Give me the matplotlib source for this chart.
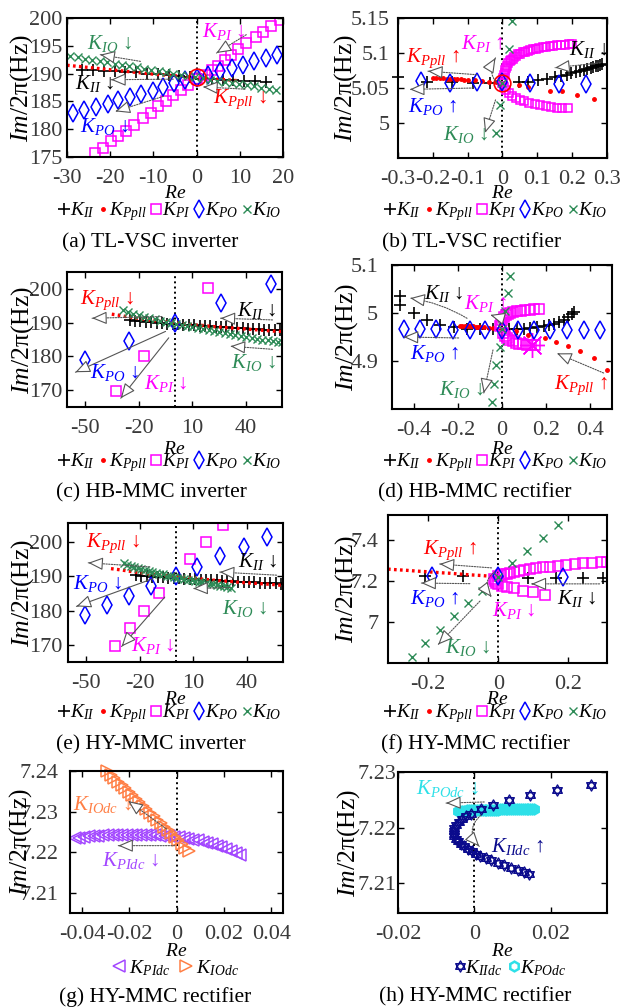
import numpy as np
import matplotlib
matplotlib.use("Agg")
import matplotlib.pyplot as plt
from matplotlib.lines import Line2D
from matplotlib.path import Path
from matplotlib.ticker import FuncFormatter
from matplotlib import transforms as mtransforms

plt.rcParams["font.family"] = ["Liberation Serif", "DejaVu Serif"]
plt.rcParams["mathtext.fontset"] = "custom"
plt.rcParams["mathtext.rm"] = "Liberation Serif"
plt.rcParams["mathtext.it"] = "Liberation Serif:italic"
plt.rcParams["axes.unicode_minus"] = False

W, H = 621, 1007
FS = 15          # annotations
FS_LEG = 14
FS_TICK = 16
FS_YLAB = 18.5
FS_XLAB = 14

C_II = "black"
C_PPLL = "#FF0000"
C_PI = "#FF00FF"
C_PO = "#0000FF"
C_IO = "#2E8B57"
C_PIDC = "#A347FF"
C_IODC = "#FF7F45"
C_IIDC = "#0A0A8C"
C_PODC = "#2EE0E8"
C_ARROW = "#555555"

# ---------------------------------------------------------------- data
# (a) TL-VSC inverter
a_II_x = [-26.5, -24, -21.5, -19, -16.5, -14, -11.5, -9, -6.5, -4, -1.5, 1, 3.5, 6, 8.5, 11, 13.5, 16]
a_II_y = [190.7, 190.6, 190.5, 190.4, 190.3, 190.2, 190.0, 189.9, 189.7, 189.5, 189.3, 189.1, 189.0, 188.9, 188.8, 188.7, 188.6, 188.5]
a_Ppll_x = [-30, -25, -20, -15, -10, -5, 0, 5, 10]
a_Ppll_y = [191.5, 191.1, 190.7, 190.3, 189.9, 189.6, 189.3, 189.0, 188.7]
a_PI_x = [-23.5, -21.7, -19.8, -18.1, -16.3, -14.4, -12.5, -10.5, -9.0, -7.1, -5.4, -3.6, -1.9, 0.0,
          1.9, 3.5, 5.0, 6.5, 7.9, 9.6, 11.5, 13.7, 15.4, 17.3, 19.2]
a_PI_y = [175.7, 176.7, 177.8, 178.8, 179.7, 180.8, 182.0, 183.0, 184.1, 185.1, 186.1, 187.1, 188.0, 189.0,
          189.8, 190.6, 191.4, 192.5, 193.4, 194.4, 195.5, 196.5, 197.5, 198.5, 199.7]
a_PO_x = [-28.6, -26.0, -23.2, -20.6, -18.1, -15.4, -12.8, -10.2, -7.7, -5.2, -2.7, 0.0, 2.7, 5.4, 8.1, 10.8, 13.3, 16.0, 18.6]
a_PO_y = [182.9, 183.5, 184.0, 184.5, 185.2, 185.8, 186.3, 186.9, 187.6, 188.3, 188.9, 189.2, 189.8, 190.4, 191.0, 191.6, 192.2, 192.8, 193.4]
a_IO_x = [-29.2, -27.5, -25.8, -24.1, -22.4, -20.7, -19, -17.3, -15.6, -13.9, -12.2, -10.5, -8.8, -7.1, -5.4,
          -3.7, -2, -0.3, 1.4, 3.1, 4.8, 6.5, 8.2, 9.9, 11.6, 13.3, 15, 16.7, 18.4]
a_IO_y = [193.1, 192.9, 192.7, 192.4, 192.2, 192.0, 191.8, 191.6, 191.3, 191.1, 190.9, 190.7, 190.5, 190.3, 190.0,
          189.8, 189.6, 189.4, 189.2, 188.9, 188.7, 188.5, 188.3, 188.1, 187.9, 187.7, 187.5, 187.3, 187.1]
a_start = (0.2, 189.3)

# (b) TL-VSC rectifier
b_II_x = [-0.3, -0.217, -0.145, -0.085, -0.036, 0.0, 0.046, 0.074, 0.103, 0.127, 0.151, 0.168, 0.184, 0.198,
          0.211, 0.223, 0.234, 0.244, 0.253, 0.261, 0.268, 0.275, 0.281, 0.287]
b_II_y = [5.066, 5.059, 5.058, 5.057, 5.057, 5.057, 5.058, 5.059, 5.061, 5.063, 5.065, 5.067, 5.069, 5.071,
          5.073, 5.074, 5.076, 5.077, 5.079, 5.080, 5.081, 5.082, 5.083, 5.084]
b_Ppll_x = [-0.2, -0.19, -0.18, -0.17, -0.16, -0.15, -0.14, -0.13, -0.12, -0.11, -0.1, -0.08, -0.06, -0.04,
            -0.02, 0.0, 0.046, 0.074, 0.137, 0.17, 0.214, 0.262]
b_Ppll_y = [5.064, 5.064, 5.064, 5.064, 5.063, 5.063, 5.063, 5.063, 5.063, 5.062, 5.062, 5.061, 5.060, 5.059,
            5.058, 5.057, 5.055, 5.052, 5.046, 5.045, 5.040, 5.034]
b_PI_x = [0.0, 0.001, 0.002, 0.004, 0.006, 0.008, 0.011, 0.014, 0.017, 0.021, 0.025, 0.029, 0.034, 0.039,
          0.045, 0.051, 0.058, 0.065, 0.072, 0.080, 0.088, 0.097, 0.106, 0.115, 0.125, 0.135, 0.145, 0.156,
          0.167, 0.178, 0.19, 0.2,
          0.004, 0.01, 0.018, 0.027, 0.038, 0.05, 0.063, 0.077, 0.092, 0.108, 0.124, 0.14, 0.156, 0.172, 0.188]
b_PI_y = [5.057, 5.061, 5.064, 5.068, 5.072, 5.075, 5.078, 5.082, 5.085, 5.088, 5.090, 5.092, 5.094, 5.096,
          5.098, 5.099, 5.101, 5.102, 5.103, 5.104, 5.105, 5.106, 5.107, 5.108, 5.109, 5.110, 5.110, 5.111,
          5.112, 5.112, 5.113, 5.113,
          5.052, 5.047, 5.043, 5.039, 5.036, 5.033, 5.031, 5.029, 5.027, 5.025, 5.024, 5.023, 5.022, 5.021, 5.021]
b_PO_x = [-0.235, -0.151, -0.074, 0.0, 0.079, 0.161, 0.24]
b_PO_y = [5.060, 5.057, 5.058, 5.058, 5.057, 5.056, 5.056]
b_IO_x = [0.026, 0.02, 0.0, -0.006, -0.02]
b_IO_y = [5.146, 5.106, 5.057, 5.026, 4.986]
b_start = (0.0, 5.057)

# (c) HB-MMC inverter
c_II_x = [-25, -22, -19, -16, -13, -10, -7, -4, -1, 2, 5, 8, 11, 14, 17, 20, 23, 26, 29, 32, 35, 38, 41, 44, 47, 50, 53, 56, 59]
c_II_y = [190.8, 190.6, 190.4, 190.2, 190.1, 189.9, 189.8, 189.7, 189.6, 189.5, 189.4, 189.3, 189.2, 189.1, 189.0,
          188.9, 188.8, 188.7, 188.6, 188.5, 188.4, 188.3, 188.2, 188.1, 188.0, 187.9, 187.8, 187.8, 187.7]
c_Ppll_x = [-35, -30, -25, -20, -15, -10, -5, 0, 5, 10, 15, 20, 25, 30, 35, 40, 45, 50, 55, 60]
c_Ppll_y = [192.5, 192.1, 191.6, 191.2, 190.8, 190.5, 190.2, 190.0, 189.7, 189.4, 189.2, 188.9, 188.7, 188.5,
            188.3, 188.1, 187.9, 187.7, 187.5, 187.4]
c_PI_x = [18.6, -17.1, -32.9]
c_PI_y = [200.3, 180.0, 169.8]
c_PO_x = [54.1, 26.2, 0.0, -25.5, -50.0]
c_PO_y = [201.5, 195.9, 190.0, 184.5, 179.0]
c_IO_x = [-29, -26, -23, -20, -17, -14, -11, -8, -5, -2, 1, 4, 7, 10, 13, 16, 19, 22, 25, 28, 31, 34, 37, 40,
          43, 46, 49, 52, 55, 58, 60]
c_IO_y = [193.7, 193.2, 192.7, 192.2, 191.8, 191.4, 191.0, 190.6, 190.3, 190.0, 189.7, 189.4, 189.1, 188.8, 188.5,
          188.2, 187.9, 187.6, 187.3, 187.0, 186.7, 186.4, 186.1, 185.8, 185.5, 185.2, 185.0, 184.8, 184.6, 184.4, 184.2]

# (d) HB-MMC rectifier
d_II_x = [-0.465, -0.465, -0.402, -0.341, -0.28, -0.22, -0.159, -0.098, -0.04, 0.0, 0.03, 0.068, 0.1, 0.129,
          0.16, 0.189, 0.212, 0.235, 0.258, 0.28, 0.3, 0.316, 0.326]
d_II_y = [5.036, 5.017, 5.0, 4.986, 4.975, 4.97, 4.967, 4.966, 4.966, 4.966, 4.966, 4.967, 4.967, 4.968,
          4.970, 4.972, 4.974, 4.977, 4.981, 4.986, 4.992, 4.997, 5.002]
d_Ppll_x = [-0.19, -0.18, -0.17, -0.16, -0.15, -0.14, -0.13, -0.12, -0.11, -0.1, -0.08, -0.06, -0.04, -0.02,
            0.0, 0.065, 0.12, 0.197, 0.247, 0.302, 0.356, 0.42, 0.479]
d_Ppll_y = [4.973, 4.973, 4.973, 4.973, 4.972, 4.972, 4.972, 4.971, 4.971, 4.970, 4.970, 4.969, 4.968, 4.967,
            4.966, 4.963, 4.954, 4.948, 4.940, 4.932, 4.921, 4.907, 4.882]
d_PI_x = [-0.008, -0.004, 0.0, 0.008, 0.016, 0.026, 0.038, 0.052, 0.068, 0.086, 0.105, 0.125, 0.146, 0.167,
          0.004, 0.012, 0.022, 0.034, 0.048, 0.063, 0.079, 0.096, 0.114, 0.133, 0.152]
d_PI_y = [4.973, 4.980, 4.986, 4.991, 4.995, 4.998, 5.000, 5.002, 5.004, 5.005, 5.006, 5.007, 5.008, 5.008,
          4.958, 4.953, 4.948, 4.944, 4.941, 4.938, 4.936, 4.935, 4.934, 4.934, 4.934]
d_PI_end = (0.136, 4.934)
d_PO_x = [-0.444, -0.371, -0.298, -0.223, -0.147, -0.076, 0.0, 0.073, 0.147, 0.22, 0.295, 0.371, 0.447]
d_PO_y = [4.967, 4.966, 4.966, 4.965, 4.965, 4.965, 4.965, 4.964, 4.964, 4.964, 4.964, 4.964, 4.964]
d_IO_x = [0.035, 0.026, 0.015, 0.0, -0.011, -0.027, -0.038, -0.045]
d_IO_y = [5.077, 5.041, 5.004, 4.966, 4.930, 4.892, 4.853, 4.814]

# (e) HY-MMC inverter
e_II_x = [-22, -19, -16, -13, -10, -7, -4, -1, 2, 5, 8, 11, 14, 17, 20, 23, 26, 29, 32, 35, 38, 41, 44, 47, 50, 53, 56, 59]
e_II_y = [190.4, 190.2, 190.1, 189.9, 189.8, 189.7, 189.6, 189.5, 189.4, 189.3, 189.2, 189.1, 189.0, 188.9,
          188.8, 188.8, 188.7, 188.6, 188.5, 188.4, 188.4, 188.3, 188.2, 188.1, 188.0, 188.0, 187.9, 187.8]
e_Ppll_x = [-36, -30, -24, -18, -12, -6, 0, 6, 12, 18, 24, 30, 36, 42, 48, 54, 60]
e_Ppll_y = [192.2, 191.8, 191.3, 190.9, 190.5, 190.2, 189.9, 189.6, 189.3, 189.0, 188.7, 188.5, 188.2, 188.0,
            187.8, 187.6, 187.3]
e_PI_x = [26.6, 17.3, 8.0, -9.3, -17.7, -25.5, -33.5]
e_PI_y = [204.9, 200.0, 195.1, 185.1, 179.8, 174.8, 169.6]
e_PO_x = [50.8, 38.3, 24.7, 12.1, 0.0, -13.4, -25.9, -38.1, -50.4]
e_PO_y = [201.5, 198.5, 195.8, 192.7, 190.0, 187.1, 184.2, 181.5, 178.8]
e_IO_x = [-29, -27, -25, -23, -21, -19, -17, -15, -13, -11, -9, -7, -5, -3, -1, 1, 3, 5, 7, 9, 11, 13, 15, 17,
          19, 21, 23, 25, 27, 29, 31]
e_IO_y = [193.7, 193.4, 193.1, 192.8, 192.5, 192.2, 191.9, 191.6, 191.3, 191.0, 190.7, 190.5, 190.2, 190.0, 189.8,
          189.6, 189.4, 189.2, 189.0, 188.8, 188.6, 188.4, 188.2, 188.0, 187.8, 187.6, 187.4, 187.2, 187.0, 186.9, 186.7]

# (f) HY-MMC rectifier
f_II_x = [-0.21, -0.1, 0.0, 0.084, 0.164, 0.241, 0.3]
f_II_y = [7.224, 7.222, 7.220, 7.217, 7.217, 7.217, 7.217]
f_Ppll_x = [-0.314, -0.29, -0.26, -0.23, -0.2, -0.17, -0.14, -0.11, -0.08, -0.05, -0.02, 0.0]
f_Ppll_y = [7.258, 7.255, 7.252, 7.248, 7.245, 7.241, 7.238, 7.234, 7.230, 7.227, 7.223, 7.220]
f_PI_x = [0.0, 0.008, 0.016, 0.024, 0.034, 0.045, 0.058, 0.073, 0.09, 0.108, 0.128, 0.149, 0.171, 0.194,
          0.218, 0.243, 0.268, 0.293, 0.31,
          -0.012, -0.01, -0.006, 0.0, 0.01, 0.024, 0.045, 0.071, 0.1, 0.133]
f_PI_y = [7.222, 7.228, 7.232, 7.236, 7.241, 7.245, 7.249, 7.254, 7.258, 7.262, 7.266, 7.270, 7.274, 7.278,
          7.282, 7.286, 7.289, 7.292, 7.295,
          7.210, 7.200, 7.190, 7.183, 7.178, 7.172, 7.164, 7.153, 7.145, 7.133]
f_PO_x = [-0.188, 0.0, 0.184]
f_PO_y = [7.223, 7.222, 7.220]
f_IO_x = [-0.246, -0.21, -0.167, -0.127, -0.086, -0.046, 0.0, 0.04, 0.083, 0.129, 0.171]
f_IO_y = [6.830, 6.897, 6.962, 7.027, 7.093, 7.153, 7.220, 7.288, 7.347, 7.410, 7.472]

# (g) HY-MMC rectifier, dc-side gains
g_PIdc_x = [-0.043, -0.041, -0.039, -0.037, -0.035, -0.033, -0.031, -0.029, -0.027, -0.025, -0.023, -0.021,
            -0.019, -0.017, -0.015, -0.013, -0.011, -0.009, -0.007, -0.005, -0.003, -0.001, 0.001, 0.003,
            0.005, 0.007, 0.009, 0.011, 0.013, 0.015, 0.017, 0.019, 0.021, 0.023, 0.025, 0.027]
g_PIdc_y = [7.2234, 7.2236, 7.2238, 7.2239, 7.2240, 7.2241, 7.2242, 7.2242, 7.2243, 7.2243, 7.2243, 7.2243,
            7.2243, 7.2243, 7.2243, 7.2243, 7.2242, 7.2242, 7.2241, 7.2240, 7.2239, 7.2238, 7.2237, 7.2235,
            7.2233, 7.2231, 7.2229, 7.2226, 7.2223, 7.2220, 7.2216, 7.2212, 7.2207, 7.2202, 7.2198, 7.2193]
g_IOdc_x = [-0.0292, -0.0277, -0.0262, -0.0247, -0.0232, -0.0217, -0.0202, -0.0187, -0.0172, -0.0157, -0.0142,
            -0.0127, -0.0112, -0.0097, -0.0082, -0.0067, -0.0052, -0.0037, -0.0022, -0.0007, 0.0008, 0.0023,
            0.0038, 0.0053]
g_IOdc_y = [7.2400, 7.2391, 7.2383, 7.2374, 7.2366, 7.2357, 7.2349, 7.2340, 7.2331, 7.2323, 7.2314, 7.2306,
            7.2297, 7.2289, 7.2280, 7.2271, 7.2263, 7.2254, 7.2246, 7.2237, 7.2229, 7.2220, 7.2211, 7.2203]

# (h) HY-MMC rectifier, dc-side gains
h_IIdc_x = [0.0306, 0.0217, 0.0146, 0.0091, 0.0048, 0.0017, -0.0009, -0.0022, -0.0033, -0.0041, -0.0048,
            -0.0052, -0.0054, -0.0054, -0.0052, -0.0048, -0.0042, -0.0035, -0.0026, -0.0017, -0.0006, 0.0004,
            0.0016, 0.003, 0.0045, 0.0061, 0.0078, 0.0096, 0.0114, 0.0131, 0.0143]
h_IIdc_y = [7.2276, 7.2268, 7.2259, 7.2250, 7.2241, 7.2233, 7.2224, 7.2220, 7.2215, 7.2210, 7.2204,
            7.2199, 7.2194, 7.2189, 7.2184, 7.2179, 7.2175, 7.2170, 7.2166, 7.2162, 7.2157, 7.2153,
            7.2149, 7.2145, 7.2141, 7.2136, 7.2132, 7.2127, 7.2123, 7.2119, 7.2117]
h_POdc_x = [-0.0043, -0.0038, -0.0033, -0.0028, -0.0023, -0.0018, -0.0013, -0.0008, -0.0003, 0.0002, 0.0007,
            0.0012, 0.0017, 0.0022, 0.0027, 0.0032, 0.0037, 0.0042, 0.0047, 0.0052, 0.0057, 0.0062, 0.0067,
            0.0072, 0.0077, 0.0082, 0.0087, 0.0092, 0.0097, 0.0102, 0.0107, 0.0112, 0.0117, 0.0122, 0.0127,
            0.0132, 0.0137, 0.0142, 0.0147, 0.0152, 0.0157]
h_POdc_y = [7.2229, 7.2229, 7.2230, 7.2230, 7.2230, 7.2231, 7.2231, 7.2231, 7.2231, 7.2231, 7.2231,
            7.2231, 7.2232, 7.2232, 7.2232, 7.2232, 7.2232, 7.2232, 7.2232, 7.2232, 7.2232, 7.2232, 7.2233,
            7.2233, 7.2233, 7.2233, 7.2233, 7.2233, 7.2233, 7.2233, 7.2233, 7.2233, 7.2233, 7.2233, 7.2233,
            7.2233, 7.2233, 7.2233, 7.2233, 7.2233, 7.2233]

# ---------------------------------------------------------------- marker styles
_t = np.deg2rad([90, 210, 330])
_up = np.c_[np.cos(_t), np.sin(_t)]
HEXAGRAM = Path(np.vstack([_up, _up[:1], -_up, -_up[:1]]),
                [Path.MOVETO, Path.LINETO, Path.LINETO, Path.CLOSEPOLY] * 2)

STY = {
    "II": dict(marker="+", color=C_II, ms=8, mew=1.2, ls="none"),
    "Ppll": dict(marker=".", color=C_PPLL, ms=5, ls="none"),
    "Ppll_line": dict(color=C_PPLL, lw=2.4, ls=(0, (0.8, 1.0))),
    "PI": dict(marker="s", mfc="none", mec=C_PI, ms=7, mew=1.1, ls="none"),
    "PO": dict(marker="d", mfc="none", mec=C_PO, ms=9, mew=1.1, ls="none"),
    "IO": dict(marker="x", color=C_IO, ms=6, mew=1.0, ls="none"),
    "PIdc": dict(marker="<", mfc="none", mec=C_PIDC, ms=8, mew=1.1, ls="none"),
    "IOdc": dict(marker=">", mfc="none", mec=C_IODC, ms=8, mew=1.1, ls="none"),
    "IIdc": dict(marker=HEXAGRAM, mfc="none", mec=C_IIDC, ms=8, mew=1.0, ls="none"),
    "POdc": dict(marker="h", mfc="none", mec=C_PODC, ms=7, mew=1.8, ls="none"),
}

fig = plt.figure(figsize=(W / 100, H / 100), dpi=100)


def add_axes(x0, y0, x1, y1):
    return fig.add_axes([x0 / W, 1 - y1 / H, (x1 - x0) / W, (y1 - y0) / H])


def fmt(v, pos):
    return "%g" % round(v, 6)


def style(ax, xlim, ylim, xticks, yticks, ylab_px, xlab_py, ypad=3.5):
    ax.set_xlim(xlim)
    ax.set_ylim(ylim)
    ax.set_xticks(xticks)
    ax.set_yticks(yticks)
    ax.xaxis.set_major_formatter(FuncFormatter(fmt))
    ax.yaxis.set_major_formatter(FuncFormatter(fmt))
    ax.tick_params(direction="in", top=True, right=True, length=4, width=1,
                   labelsize=FS_TICK, labelcolor="#3a3a3a")
    ax.tick_params(axis="x", pad=8.5)
    ax.tick_params(axis="y", pad=ypad)
    for sp in ax.spines.values():
        sp.set_linewidth(1.5)
    ax.axvline(0, color="k", ls=":", lw=1.4, zorder=1)
    ax.set_ylabel(r"$Im$/2π(Hz)", fontsize=FS_YLAB, va="center")
    ax.set_xlabel(r"$Re$", fontsize=FS_XLAB, va="center")
    ax.yaxis.set_label_coords(ylab_px / W, 0.5,
                              transform=mtransforms.blended_transform_factory(fig.transFigure, ax.transAxes))
    ax.xaxis.set_label_coords(0.5, 1 - xlab_py / H,
                              transform=mtransforms.blended_transform_factory(ax.transAxes, fig.transFigure))


def arrow(ax, start, end, rad=0.0, ls=(0, (1.2, 1.2))):
    ax.annotate("", xy=end, xytext=start,
                arrowprops=dict(arrowstyle="-", color=C_ARROW, lw=0.8, ls=ls,
                                connectionstyle="arc3,rad=%s" % rad, shrinkA=0, shrinkB=0))
    # open triangular head, aligned with the end tangent of the curve
    p1 = ax.transData.transform(start)
    p2 = ax.transData.transform(end)
    d = p2 - p1
    ctrl = (p1 + p2) / 2 + rad * np.array([d[1], -d[0]])
    t = p2 - ctrl
    t = t / np.hypot(*t)
    tail = ax.transData.inverted().transform(p2 - 2 * t)
    ax.annotate("", xy=end, xytext=tail,
                arrowprops=dict(arrowstyle="-|>,head_length=0.65,head_width=0.28", fc="white",
                                ec=C_ARROW, lw=0.8, mutation_scale=14, shrinkA=0, shrinkB=0))


def note(ax, x, y, text, color):
    ax.text(x, y, text, color=color, fontsize=FS, ha="left", va="center")


def legend(ax, keys, labels, cx, cy, spacing=0.15):
    handles = [Line2D([], [], **STY[k]) for k in keys]
    ax.legend(handles, labels, loc="center", bbox_to_anchor=(cx / W, 1 - cy / H),
              bbox_transform=fig.transFigure, ncol=len(keys), frameon=False, fontsize=FS_LEG,
              handlelength=0.6, handletextpad=0.0, columnspacing=spacing, borderpad=0, borderaxespad=0)


def caption(cx, cy, text):
    fig.text(cx / W, 1 - cy / H, text, fontsize=15.5, ha="center", va="center")


AC_KEYS = ["II", "Ppll", "PI", "PO", "IO"]
AC_LABELS = [r"$K_{II}$", r"$K_{Ppll}$", r"$K_{PI}$", r"$K_{PO}$", r"$K_{IO}$"]

# ---------------------------------------------------------------- (a)
ax = add_axes(67, 18, 283, 157)
style(ax, (-30, 20), (175, 200), [-30, -20, -10, 0, 10, 20], [175, 180, 185, 190, 195, 200], 22, 194, ypad=3.5)
ax.plot(a_II_x, a_II_y, **STY["II"])
ax.plot(a_Ppll_x, a_Ppll_y, **STY["Ppll_line"])
ax.plot(a_PI_x, a_PI_y, **STY["PI"])
ax.plot(a_PO_x, a_PO_y, **STY["PO"])
ax.plot(a_IO_x, a_IO_y, **STY["IO"])
ax.plot(*a_start, marker="o", mfc="none", mec=C_PPLL, ms=12, mew=1.2)
arrow(ax, (-13, 192.2), (-22.3, 193.4))
arrow(ax, (-5.4, 189.0), (-19.8, 188.9))
arrow(ax, (-7.7, 185.9), (-18.8, 183.2))
arrow(ax, (11.5, 197.0), (4.6, 193.7))
arrow(ax, (11.2, 187.2), (1.5, 187.6))
note(ax, -25.4, 195.5, r"$K_{IO}$ ↓", C_IO)
note(ax, -28.1, 188.3, r"$K_{II}$ ↓", C_II)
note(ax, -26.9, 180.5, r"$K_{PO}$ ↓", C_PO)
note(ax, 1.2, 197.6, r"$K_{PI}$ ↓", C_PI)
note(ax, 3.8, 185.3, r"$K_{Ppll}$ ↓", C_PPLL)
legend(ax, AC_KEYS, AC_LABELS, 170, 212)
caption(150, 243, "(a) TL-VSC inverter")

# ---------------------------------------------------------------- (b)
ax = add_axes(398, 18, 607, 158)
style(ax, (-0.3, 0.3), (4.95, 5.15), [-0.3, -0.2, -0.1, 0, 0.1, 0.2, 0.3], [5.0, 5.05, 5.1, 5.15], 346, 194, ypad=5.8)
ax.plot(b_II_x, b_II_y, clip_on=False, **STY["II"])
ax.plot(b_Ppll_x, b_Ppll_y, **STY["Ppll"])
ax.plot(b_PI_x, b_PI_y, **{**STY["PI"], "ms": 6})
ax.plot(b_PO_x, b_PO_y, **STY["PO"])
ax.plot(b_IO_x, b_IO_y, **STY["IO"])
ax.plot(*b_start, marker="o", mfc="none", mec=C_PPLL, ms=12, mew=1.2)
arrow(ax, (-0.074, 5.069), (-0.214, 5.074))
arrow(ax, (-0.084, 5.050), (-0.266, 5.048))
arrow(ax, (-0.004, 5.052), (-0.02, 5.093), rad=-0.45)
arrow(ax, (0.281, 5.086), (0.151, 5.079))
arrow(ax, (-0.02, 5.033), (-0.05, 4.986))
note(ax, -0.276, 5.093, r"$K_{Ppll}$ ↑", C_PPLL)
note(ax, -0.271, 5.024, r"$K_{PO}$ ↑", C_PO)
note(ax, -0.118, 5.114, r"$K_{PI}$ ↑", C_PI)
note(ax, 0.19, 5.105, r"$K_{II}$ ↓", C_II)
note(ax, -0.17, 4.983, r"$K_{IO}$ ↓", C_IO)
legend(ax, AC_KEYS, AC_LABELS, 496, 212)
caption(472, 243, "(b) TL-VSC rectifier")

# ---------------------------------------------------------------- (c)
ax = add_axes(67, 272, 282, 407)
style(ax, (-60, 60), (165, 205), [-50, -20, 10, 40], [170, 180, 190, 200], 23, 449, ypad=3)
ax.plot(c_II_x, c_II_y, **STY["II"])
ax.plot(c_Ppll_x, c_Ppll_y, **STY["Ppll_line"])
ax.plot(c_PI_x, c_PI_y, **STY["PI"])
ax.plot(c_PO_x, c_PO_y, **STY["PO"])
ax.plot(c_IO_x, c_IO_y, **STY["IO"])
arrow(ax, (-7, 191.8), (-46, 191.3))
arrow(ax, (54.7, 190.8), (25.7, 191.3))
arrow(ax, (54.7, 182.1), (31.3, 183.0))
arrow(ax, (-5, 187.4), (-55.3, 175.3), ls="-")
arrow(ax, (-3.2, 185.5), (-30, 167.6), ls="-")
note(ax, -52.5, 196.6, r"$K_{Ppll}$ ↓", C_PPLL)
note(ax, 35, 193.7, r"$K_{II}$ ↓", C_II)
note(ax, 31.3, 178.2, r"$K_{IO}$ ↓", C_IO)
note(ax, -46.9, 175.3, r"$K_{PO}$ ↓", C_PO)
note(ax, -17.1, 171.9, r"$K_{PI}$ ↓", C_PI)
legend(ax, AC_KEYS, AC_LABELS, 170, 463)
caption(151, 493, "(c) HB-MMC inverter")

# ---------------------------------------------------------------- (d)
ax = add_axes(392, 265, 612, 409)
style(ax, (-0.5, 0.5), (4.8, 5.1), [-0.4, -0.2, 0, 0.2, 0.4], [4.9, 5.0, 5.1], 347, 449, ypad=10)
ax.plot(d_II_x, d_II_y, **STY["II"])
ax.plot(d_Ppll_x, d_Ppll_y, **STY["Ppll"])
ax.plot(d_PI_x, d_PI_y, **STY["PI"])
ax.plot(*d_PI_end, marker=(8, 2, 0), color=C_PI, ms=18, mew=1.0)
ax.plot(d_PO_x, d_PO_y, **STY["PO"])
ax.plot(d_IO_x, d_IO_y, **STY["IO"])
arrow(ax, (-0.159, 4.989), (-0.417, 5.031), rad=0.1)
arrow(ax, (-0.01, 4.972), (-0.053, 4.996), rad=0.35)
arrow(ax, (-0.197, 4.948), (-0.447, 4.950))
arrow(ax, (-0.041, 4.923), (-0.083, 4.833))
arrow(ax, (0.462, 4.875), (0.25, 4.916))
note(ax, -0.356, 5.041, r"$K_{II}$ ↓", C_II)
note(ax, -0.174, 5.020, r"$K_{PI}$ ↑", C_PI)
note(ax, -0.417, 4.916, r"$K_{PO}$ ↑", C_PO)
note(ax, -0.288, 4.840, r"$K_{IO}$ ↓", C_IO)
note(ax, 0.235, 4.850, r"$K_{Ppll}$ ↑", C_PPLL)
legend(ax, AC_KEYS, AC_LABELS, 496, 463)
caption(475, 493, "(d) HB-MMC rectifier")

# ---------------------------------------------------------------- (e)
ax = add_axes(68, 523, 283, 662)
style(ax, (-60, 60), (165, 205.5), [-50, -20, 10, 40], [170, 180, 190, 200], 23, 700, ypad=4.3)
ax.plot(e_II_x, e_II_y, **STY["II"])
ax.plot(e_Ppll_x, e_Ppll_y, **STY["Ppll_line"])
ax.plot(e_PI_x, e_PI_y, **STY["PI"])
ax.plot(e_PO_x, e_PO_y, **STY["PO"])
ax.plot(e_IO_x, e_IO_y, **STY["IO"])
arrow(ax, (-14.3, 192.7), (-48.7, 193.9))
arrow(ax, (56.4, 190.3), (24.7, 191.2))
arrow(ax, (-12.5, 189.3), (-55.3, 181.2), ls="-")
arrow(ax, (30.3, 186.7), (9.9, 186.4))
arrow(ax, (-6, 183.9), (-30.1, 169.5), ls="-")
note(ax, -49.7, 199.5, r"$K_{Ppll}$ ↓", C_PPLL)
note(ax, 35, 194.2, r"$K_{II}$ ↓", C_II)
note(ax, -57.1, 187.8, r"$K_{PO}$ ↓", C_PO)
note(ax, 25.7, 180.5, r"$K_{IO}$ ↓", C_IO)
note(ax, -24.6, 169.8, r"$K_{PI}$ ↓", C_PI)
legend(ax, AC_KEYS, AC_LABELS, 170, 714)
caption(151, 745, "(e) HY-MMC inverter")

# ---------------------------------------------------------------- (f)
ax = add_axes(388, 515, 607, 663)
style(ax, (-0.314, 0.31), (6.8, 7.522), [-0.2, 0, 0.2], [7.0, 7.2, 7.4], 347, 700, ypad=7)
ax.plot(f_II_x, f_II_y, **STY["II"])
ax.plot(f_Ppll_x, f_Ppll_y, **STY["Ppll_line"])
ax.plot(f_PI_x, f_PI_y, **STY["PI"])
ax.plot(f_PO_x, f_PO_y, **STY["PO"])
ax.plot(f_IO_x, f_IO_y, **STY["IO"])
arrow(ax, (-0.019, 7.264), (-0.167, 7.283))
arrow(ax, (-0.081, 7.187), (-0.219, 7.190))
arrow(ax, (0.289, 7.186), (0.095, 7.186))
arrow(ax, (-0.01, 7.245), (-0.019, 7.122), rad=0.5)
arrow(ax, (-0.052, 7.102), (-0.171, 6.890))
note(ax, -0.214, 7.351, r"$K_{Ppll}$ ↑", C_PPLL)
note(ax, -0.252, 7.114, r"$K_{PO}$ ↑", C_PO)
note(ax, 0.167, 7.114, r"$K_{II}$ ↓", C_II)
note(ax, -0.019, 7.057, r"$K_{PI}$ ↓", C_PI)
note(ax, -0.152, 6.878, r"$K_{IO}$ ↓", C_IO)
legend(ax, AC_KEYS, AC_LABELS, 496, 714)
caption(475, 745, "(f) HY-MMC rectifier")

# ---------------------------------------------------------------- (g)
ax = add_axes(70, 771, 283, 913)
style(ax, (-0.045, 0.045), (7.205, 7.24), [-0.04, -0.02, 0, 0.02, 0.04], [7.21, 7.22, 7.23, 7.24], 21, 952, ypad=8.5)
ax.plot(g_PIdc_x, g_PIdc_y, **STY["PIdc"])
ax.plot(g_IOdc_x, g_IOdc_y, clip_on=False, **STY["IOdc"])
arrow(ax, (-0.0042, 7.2257), (-0.0204, 7.2326))
arrow(ax, (-0.0007, 7.2216), (-0.0246, 7.2216))
note(ax, -0.0436, 7.2318, r"$K_{IOdc}$ ↓", C_IODC)
note(ax, -0.0316, 7.2179, r"$K_{PIdc}$ ↓", C_PIDC)
legend(ax, ["PIdc", "IOdc"], [" " + r"$K_{PIdc}$", " " + r"$K_{IOdc}$"], 176, 968, spacing=0.5)
caption(155, 997, "(g) HY-MMC rectifier")

# ---------------------------------------------------------------- (h)
ax = add_axes(398, 772, 607, 913)
style(ax, (-0.02, 0.0348), (7.2046, 7.23), [-0.02, 0, 0.02], [7.21, 7.22, 7.23], 349, 952, ypad=1)
ax.plot(h_POdc_x, h_POdc_y, **STY["POdc"])
ax.plot(h_IIdc_x, h_IIdc_y, **STY["IIdc"])
arrow(ax, (0.0026, 7.2246), (-0.0074, 7.2244))
arrow(ax, (0.0017, 7.2222), (0.0013, 7.2166), rad=0.5)
note(ax, -0.0152, 7.2270, r"$K_{POdc}$ ↓", C_PODC)
note(ax, 0.0043, 7.2166, r"$K_{IIdc}$ ↑", C_IIDC)
legend(ax, ["IIdc", "POdc"], [r"$K_{IIdc}$", r"$K_{POdc}$"], 510, 968, spacing=0.3)
caption(475, 997, "(h) HY-MMC rectifier")

fig.savefig("out.png", dpi=100)
